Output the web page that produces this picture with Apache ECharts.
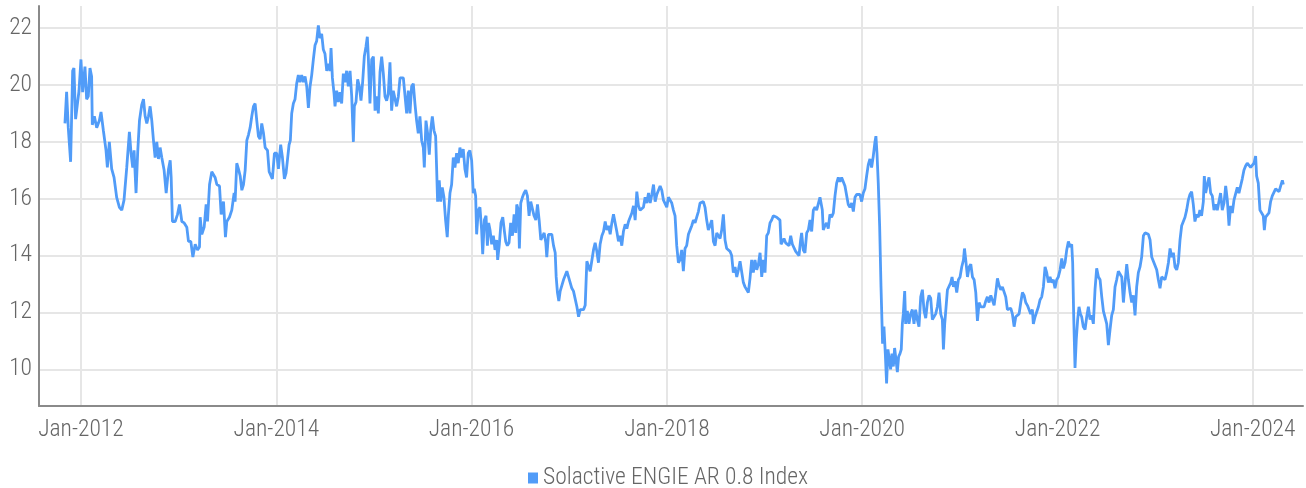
<!DOCTYPE html>
<html lang="en" style="height: 100%">
<head>
  <meta charset="UTF-8">
</head>
<body style="height: 100%; margin: 0">
  <div id="container" style="width: 1306px; height: 488px"></div>
  <script type="text/javascript" src="https://fastly.jsdelivr.net/npm/echarts@6/dist/echarts.min.js"></script>
  <script type="text/javascript">
var seriesName = 'Solactive ENGIE AR 0.8 Index';
var yLabels = [10, 12, 14, 16, 18, 20, 22];
var xLabelYears = [2012, 2014, 2016, 2018, 2020, 2022, 2024];

// dates as decimal years
var dates = [
  2011.836, 2011.853, 2011.870, 2011.894, 2011.915, 2011.928, 2011.945, 2011.963, 2011.980, 2012.000,
  2012.017, 2012.041, 2012.058, 2012.075, 2012.092, 2012.109, 2012.116, 2012.137, 2012.161, 2012.188,
  2012.205, 2012.229, 2012.256, 2012.270, 2012.290, 2012.314, 2012.338, 2012.365, 2012.393, 2012.417,
  2012.440, 2012.468, 2012.495, 2012.512, 2012.529, 2012.543, 2012.563, 2012.580, 2012.598, 2012.621,
  2012.639, 2012.656, 2012.673, 2012.690, 2012.707, 2012.724, 2012.741, 2012.758, 2012.775, 2012.792,
  2012.809, 2012.826, 2012.850, 2012.871, 2012.895, 2012.912, 2012.922, 2012.935, 2012.963, 2012.987,
  2013.007, 2013.031, 2013.055, 2013.082, 2013.099, 2013.123, 2013.144, 2013.168, 2013.192, 2013.212,
  2013.219, 2013.236, 2013.260, 2013.280, 2013.294, 2013.315, 2013.338, 2013.355, 2013.372, 2013.390,
  2013.417, 2013.434, 2013.458, 2013.478, 2013.492, 2013.519, 2013.543, 2013.567, 2013.577, 2013.594,
  2013.611, 2013.629, 2013.646, 2013.663, 2013.680, 2013.697, 2013.714, 2013.731, 2013.748, 2013.765,
  2013.782, 2013.799, 2013.816, 2013.833, 2013.850, 2013.868, 2013.885, 2013.909, 2013.926,
  2013.935, 2013.959, 2013.980, 2014.003, 2014.021, 2014.044, 2014.062, 2014.082, 2014.099, 2014.116,
  2014.130, 2014.143, 2014.157, 2014.174, 2014.191, 2014.208, 2014.225, 2014.242, 2014.259, 2014.277,
  2014.294, 2014.311, 2014.328, 2014.345, 2014.362, 2014.379, 2014.396, 2014.413, 2014.430, 2014.447,
  2014.464, 2014.481, 2014.498, 2014.516, 2014.533, 2014.550, 2014.560, 2014.574, 2014.591, 2014.601,
  2014.618, 2014.635, 2014.652, 2014.669, 2014.686, 2014.703, 2014.720, 2014.737, 2014.755, 2014.772,
  2014.789, 2014.799, 2014.816, 2014.833, 2014.850, 2014.867, 2014.884, 2014.901, 2014.918, 2014.932,
  2014.942, 2014.959, 2014.977, 2014.994, 2015.011, 2015.028, 2015.045, 2015.062, 2015.079, 2015.096,
  2015.113, 2015.130, 2015.147, 2015.164, 2015.181, 2015.198, 2015.215, 2015.232, 2015.250, 2015.267,
  2015.284, 2015.301, 2015.318, 2015.335, 2015.352, 2015.369, 2015.386, 2015.403, 2015.420, 2015.437,
  2015.454, 2015.471, 2015.489, 2015.506, 2015.516, 2015.533, 2015.550, 2015.567, 2015.581, 2015.598,
  2015.615, 2015.632, 2015.642, 2015.652, 2015.669, 2015.683, 2015.700, 2015.717, 2015.734, 2015.751,
  2015.762, 2015.779, 2015.796, 2015.813, 2015.830, 2015.847, 2015.864, 2015.881, 2015.898, 2015.915,
  2015.932, 2015.949, 2015.966, 2015.983, 2016.001, 2016.018,
  2016.028, 2016.042, 2016.052, 2016.069, 2016.086, 2016.103, 2016.114, 2016.131, 2016.148, 2016.162,
  2016.175, 2016.189, 2016.206, 2016.223, 2016.240, 2016.257, 2016.267, 2016.284, 2016.301, 2016.319,
  2016.336, 2016.349, 2016.366, 2016.383, 2016.400, 2016.418, 2016.435, 2016.452, 2016.462, 2016.479,
  2016.489, 2016.503, 2016.520, 2016.537, 2016.554, 2016.571, 2016.588, 2016.605, 2016.622, 2016.639,
  2016.657, 2016.674, 2016.691, 2016.708, 2016.725, 2016.742, 2016.759, 2016.769, 2016.786, 2016.803,
  2016.820, 2016.838, 2016.855, 2016.865, 2016.878, 2016.892, 2016.906, 2016.923, 2016.940, 2016.957,
  2016.974, 2016.991, 2017.008, 2017.025, 2017.042, 2017.059, 2017.077, 2017.094, 2017.111, 2017.128,
  2017.145, 2017.162, 2017.179, 2017.196, 2017.213, 2017.230, 2017.247, 2017.264, 2017.281, 2017.298,
  2017.315, 2017.333, 2017.350, 2017.367, 2017.384, 2017.401, 2017.418, 2017.435, 2017.452, 2017.469,
  2017.486, 2017.503, 2017.520, 2017.537, 2017.554, 2017.572, 2017.589, 2017.606, 2017.623, 2017.640,
  2017.657, 2017.674, 2017.691, 2017.708, 2017.725, 2017.742, 2017.759, 2017.776, 2017.793, 2017.811,
  2017.828, 2017.845, 2017.862, 2017.879, 2017.896, 2017.913, 2017.930, 2017.947, 2017.964, 2017.981,
  2017.998, 2018.015, 2018.032, 2018.049, 2018.066,
  2018.083, 2018.100, 2018.117, 2018.134, 2018.151, 2018.168, 2018.185, 2018.202, 2018.220, 2018.237,
  2018.254, 2018.271, 2018.288, 2018.305, 2018.322, 2018.339, 2018.356, 2018.373, 2018.390, 2018.407,
  2018.424, 2018.441, 2018.459, 2018.476, 2018.493, 2018.510, 2018.527, 2018.544, 2018.561, 2018.578,
  2018.595, 2018.612, 2018.629, 2018.646, 2018.663, 2018.680, 2018.698, 2018.715, 2018.732, 2018.749,
  2018.766, 2018.783, 2018.800, 2018.817, 2018.834, 2018.851, 2018.868, 2018.885, 2018.902, 2018.920,
  2018.937, 2018.954, 2018.971, 2018.988, 2019.005, 2019.022, 2019.039, 2019.056, 2019.073, 2019.090,
  2019.107, 2019.124, 2019.141, 2019.158, 2019.169, 2019.182, 2019.199, 2019.216, 2019.233, 2019.251,
  2019.268, 2019.285, 2019.302, 2019.319, 2019.336, 2019.353, 2019.370, 2019.380, 2019.397, 2019.414,
  2019.432, 2019.449, 2019.466, 2019.483, 2019.500, 2019.517, 2019.534, 2019.551, 2019.568, 2019.578,
  2019.592, 2019.602, 2019.619, 2019.636, 2019.653, 2019.670, 2019.687, 2019.705, 2019.722, 2019.739,
  2019.756, 2019.773, 2019.790, 2019.807, 2019.824, 2019.841, 2019.858, 2019.875, 2019.893, 2019.910,
  2019.927, 2019.944, 2019.961, 2019.978, 2019.995, 2020.012, 2020.029, 2020.046, 2020.063, 2020.080,
  2020.097, 2020.114, 2020.131, 2020.141, 2020.152, 2020.165, 2020.179, 2020.193,
  2020.209, 2020.223, 2020.237, 2020.250, 2020.264, 2020.278, 2020.291, 2020.305, 2020.319, 2020.332,
  2020.346, 2020.360, 2020.373, 2020.387, 2020.400, 2020.411, 2020.421, 2020.435, 2020.445, 2020.462,
  2020.479, 2020.496, 2020.513, 2020.530, 2020.547, 2020.564, 2020.581, 2020.599, 2020.616, 2020.633,
  2020.650, 2020.667, 2020.684, 2020.701, 2020.718, 2020.735, 2020.752, 2020.769, 2020.786, 2020.803,
  2020.820, 2020.831, 2020.844, 2020.858, 2020.872, 2020.889, 2020.906, 2020.919, 2020.933, 2020.950,
  2020.967, 2020.984, 2021.001, 2021.018, 2021.036, 2021.046, 2021.059, 2021.077, 2021.094, 2021.111,
  2021.128, 2021.145, 2021.162, 2021.179, 2021.196, 2021.213, 2021.230, 2021.247, 2021.264, 2021.281,
  2021.298, 2021.316, 2021.333, 2021.350, 2021.367, 2021.384, 2021.401, 2021.418, 2021.435, 2021.452,
  2021.469, 2021.486, 2021.503, 2021.520, 2021.537, 2021.555, 2021.572, 2021.589, 2021.606, 2021.623,
  2021.640, 2021.657, 2021.674, 2021.691, 2021.708, 2021.725, 2021.742, 2021.752, 2021.770, 2021.787,
  2021.804, 2021.821, 2021.838, 2021.855, 2021.872, 2021.889, 2021.906, 2021.923, 2021.940, 2021.957,
  2021.974, 2021.991, 2022.008, 2022.026, 2022.043, 2022.060, 2022.077, 2022.094, 2022.111, 2022.128,
  2022.145, 2022.155, 2022.165, 2022.179, 2022.192, 2022.206, 2022.220, 2022.234, 2022.247, 2022.264,
  2022.282, 2022.299, 2022.316, 2022.333, 2022.350, 2022.367, 2022.384, 2022.401, 2022.419, 2022.436,
  2022.453, 2022.470, 2022.487, 2022.504, 2022.521, 2022.538, 2022.555, 2022.572, 2022.589, 2022.606,
  2022.623, 2022.640, 2022.658, 2022.675, 2022.692, 2022.709, 2022.726, 2022.743, 2022.760, 2022.777,
  2022.794, 2022.811, 2022.828, 2022.845, 2022.862, 2022.880, 2022.897, 2022.914, 2022.931, 2022.948,
  2022.965, 2022.982, 2022.999, 2023.016, 2023.033, 2023.050, 2023.067, 2023.084, 2023.101, 2023.118,
  2023.136, 2023.153, 2023.170, 2023.187, 2023.204, 2023.221, 2023.238, 2023.255, 2023.272, 2023.289,
  2023.306, 2023.323, 2023.340, 2023.357, 2023.374, 2023.391, 2023.408, 2023.425, 2023.442, 2023.459,
  2023.476, 2023.494, 2023.504, 2023.518, 2023.535, 2023.552, 2023.569, 2023.586, 2023.603, 2023.620,
  2023.637, 2023.654, 2023.671, 2023.688, 2023.706, 2023.723, 2023.740, 2023.757, 2023.774, 2023.791,
  2023.808, 2023.825, 2023.842, 2023.859, 2023.876, 2023.893, 2023.910, 2023.927, 2023.944, 2023.961,
  2023.979, 2023.996, 2024.013, 2024.030, 2024.040, 2024.057, 2024.074, 2024.091, 2024.108, 2024.119,
  2024.132, 2024.149, 2024.166, 2024.183, 2024.200, 2024.217, 2024.234, 2024.251, 2024.269, 2024.286,
  2024.303, 2024.313
];

var values = [
  18.65, 19.76, 18.5, 17.3, 20.5, 20.6, 18.8, 18.75, 19.8, 20.9,
  19.75, 20.65, 19.5, 19.6, 20.6, 20.3, 18.6, 18.9, 18.5, 18.75,
  19.05, 18.4, 17.7, 17.1, 18.0, 17.05, 16.75, 16.05, 15.7, 15.6,
  15.95, 17.1, 18.35, 17.6, 17.1, 17.7, 16.2, 17.65, 18.75, 19.3,
  19.5, 18.9, 18.65, 18.9, 19.25, 18.75, 18.05, 17.45, 18.0, 17.4,
  17.8, 17.45, 17.0, 16.2, 17.05, 17.35, 16.75, 15.2, 15.2, 15.45,
  15.8, 15.2, 15.15, 15.0, 14.5, 14.5, 13.95, 14.4, 14.2, 14.3,
  15.35, 14.75, 15.0, 15.8, 15.2, 16.5, 16.95, 16.9, 16.75, 16.5,
  16.45, 15.45, 15.9, 14.65, 15.2, 15.35, 15.6, 16.2, 15.9, 17.25,
  17.05, 16.8, 16.3, 16.5, 17.0, 18.05, 18.25, 18.5, 18.9, 19.25,
  19.35, 18.75, 18.2, 18.1, 18.65, 18.3, 17.8, 17.7, 16.95,
  17.0, 16.7, 17.6, 17.6, 17.05, 17.9, 17.45, 16.7, 16.9, 17.45,
  17.9, 18.05, 19.0, 19.35, 19.5, 20.05, 20.35, 20.1, 20.35, 20.1,
  20.3, 19.95, 19.2, 19.95, 20.35, 20.9, 21.4, 21.55, 22.1, 21.65,
  21.8, 21.25, 21.1, 20.5, 20.75, 20.5, 21.3, 20.25, 19.7, 19.25,
  19.8, 19.4, 19.75, 19.35, 20.4, 20.1, 20.5, 19.95, 20.5, 19.6,
  18.0, 19.25, 19.4, 20.2, 19.95, 19.45, 20.1, 21.0, 21.35, 21.7,
  21.0, 19.35, 20.9, 21.0, 19.1, 19.6, 19.0, 20.45, 21.0, 20.4,
  19.6, 19.45, 19.7, 20.8, 19.1, 19.8, 19.75, 19.25, 19.6, 20.25,
  20.2, 20.25, 20.2, 19.0, 19.8, 19.0, 19.95, 20.05, 19.35, 18.75,
  18.3, 18.9, 18.05, 17.8, 17.1, 18.75, 18.3, 17.55, 18.4, 18.9,
  18.4, 18.2, 17.1, 15.9, 16.65, 15.9, 16.4, 16.05, 15.25, 14.65,
  15.4, 16.2, 16.5, 17.45, 17.1, 17.6, 17.25, 17.8, 17.45, 17.75,
  17.05, 16.75, 17.6, 17.7, 17.35, 16.2,
  16.35, 16.1, 14.75, 15.6, 15.7, 14.9, 14.05, 15.25, 15.4, 14.35,
  15.15, 14.9, 14.4, 14.7, 14.2, 14.55, 13.85, 14.4, 15.15, 15.35,
  14.85, 14.5, 14.35, 14.45, 15.15, 14.7, 15.45, 14.8, 15.8, 15.6,
  14.25, 15.85, 16.05, 16.2, 16.3, 16.1, 15.4, 15.9, 15.9, 15.4,
  15.25, 15.8, 15.25, 14.55, 14.5, 14.8, 14.45, 13.95, 14.75, 14.75,
  14.75, 14.35, 14.1, 13.25, 12.7, 12.4, 12.75, 12.7, 13.15, 13.15,
  13.45, 13.25, 13.3, 12.85, 12.75, 12.7, 12.2, 11.85, 12.1, 12.05,
  12.1, 12.25, 13.8, 13.75, 13.45, 13.5, 14.2, 14.45, 14.15, 13.75,
  14.4, 14.7, 14.85, 15.2, 14.9, 15.05, 14.75, 15.15, 15.45, 15.4,
  14.85, 14.5, 14.7, 14.35, 14.85, 15.1, 14.95, 15.2, 15.25, 15.5,
  15.75, 15.25, 16.25, 15.75, 15.6, 15.55, 15.7, 16.05, 15.85, 16.2,
  15.85, 16.15, 16.5, 15.9, 16.15, 16.3, 16.45, 16.3, 15.95, 15.9,
  15.7, 16.05, 16.1, 15.85, 15.6,
  15.4, 14.35, 13.75, 13.85, 14.2, 13.45, 14.25, 14.35, 14.75, 14.7,
  15.05, 15.25, 15.15, 15.35, 15.55, 15.85, 15.9, 15.9, 15.7, 15.25,
  14.9, 15.05, 15.25, 14.5, 14.35, 14.8, 14.7, 14.6, 14.9, 15.45,
  14.55, 14.25, 14.25, 14.15, 14.0, 13.4, 13.6, 13.25, 13.5, 13.8,
  13.75, 13.05, 12.9, 12.85, 12.7, 13.2, 13.85, 13.4, 13.85, 13.5,
  13.7, 14.1, 13.25, 13.85, 13.4, 14.7, 14.8, 15.15, 15.25, 15.4,
  15.35, 15.35, 15.35, 15.25, 14.4, 14.35, 14.6, 14.45, 14.5, 14.35,
  14.7, 14.4, 14.35, 14.15, 14.1, 14.0, 14.55, 14.8, 14.2, 14.1,
  14.8, 14.9, 15.25, 14.85, 15.6, 15.7, 15.6, 15.55, 16.05, 16.1,
  15.6, 14.9, 15.05, 15.15, 14.95, 15.45, 15.35, 15.5, 16.1, 16.55,
  16.75, 16.6, 16.75, 16.7, 16.45, 16.5, 15.8, 15.7, 15.85, 15.55,
  16.05, 16.15, 16.2, 16.15, 15.9, 16.2, 16.35, 16.8, 17.2, 17.4,
  17.1, 17.5, 18.0, 18.2, 17.6, 16.55, 15.05, 12.9,
  10.9, 11.5, 10.55, 9.5, 10.7, 10.35, 10.0, 10.55, 10.1, 10.75,
  10.35, 9.9, 10.45, 10.55, 10.7, 11.6, 11.95, 12.75, 11.6, 12.05,
  11.6, 11.95, 12.1, 11.6, 12.1, 11.75, 11.5, 12.55, 12.8, 12.05,
  11.8, 12.35, 12.6, 12.5, 11.75, 11.7, 11.95, 12.2, 12.7, 11.95,
  11.75, 10.7, 11.6, 12.2, 12.8, 12.85, 13.05, 13.25, 12.9, 13.1,
  12.7, 13.15, 13.25, 13.6, 13.85, 14.25, 13.85, 13.25, 13.6, 13.7,
  13.25, 13.15, 12.7, 11.7, 12.35, 12.2, 12.25, 12.2, 12.4, 12.55,
  12.35, 12.6, 12.55, 12.25, 12.7, 13.2, 12.95, 12.8, 12.9, 12.85,
  12.55, 12.1, 12.05, 12.15, 11.95, 11.5, 11.85, 11.85, 11.95, 12.35,
  12.7, 12.6, 12.35, 12.25, 12.2, 11.95, 12.1, 11.6, 11.85, 11.8,
  12.2, 12.45, 12.55, 12.9, 13.6, 13.4, 13.05, 13.25, 13.05, 13.15,
  12.85, 13.15, 13.25, 13.5, 13.9, 13.55, 13.75, 14.2, 14.5, 14.3,
  14.4, 13.75, 11.95, 10.05, 11.05, 11.75, 12.2, 11.95, 11.85, 11.5,
  11.4, 11.85, 12.2, 11.75, 11.9, 11.6, 12.8, 13.55, 13.25, 13.15,
  12.55, 12.05, 12.1, 11.6, 10.85, 11.4, 11.9, 12.1, 12.9, 13.15,
  13.45, 13.45, 13.25, 12.35, 13.05, 13.7, 13.15, 12.7, 12.35, 12.6,
  11.9, 12.9, 13.4, 13.6, 13.95, 14.7, 14.8, 14.8, 14.75, 14.55,
  13.95, 13.8, 13.75, 13.5, 13.15, 12.85, 13.25, 13.25, 13.15, 13.4,
  13.75, 14.25, 13.95, 14.1, 13.6, 13.5, 13.75, 14.55, 15.05, 15.2,
  15.35, 15.6, 15.95, 16.15, 16.25, 15.8, 15.2, 15.45, 15.35, 15.6,
  15.4, 15.9, 16.8, 16.2, 16.5, 16.75, 16.2, 16.1, 15.6, 15.8,
  15.6, 15.9, 16.2, 15.6, 15.85, 16.45, 15.95, 15.05, 15.75, 15.5,
  15.95, 15.95, 16.4, 16.2, 16.45, 16.7, 17.0, 17.15, 17.25, 17.25,
  17.1, 17.05, 17.25, 17.5, 16.8, 16.55, 15.6, 15.55, 15.4, 14.9,
  15.35, 15.4, 15.5, 15.9, 16.1, 16.15, 16.35, 16.35, 16.25, 16.45,
  16.65, 16.5
];

var axisStart = 2011.57;
var axisEnd = 2024.514;

function toTime(y) {
  var yr = Math.floor(y);
  var s = Date.UTC(yr, 0, 1), e = Date.UTC(yr + 1, 0, 1);
  return s + (y - yr) * (e - s);
}

var n = Math.min(dates.length, values.length);
var seriesData = [];
for (var i = 0; i < n; i++) {
  seriesData.push([toTime(dates[i]), values[i]]);
}
var xTicks = xLabelYears.map(function (y) { return Date.UTC(y, 0, 1); });

var textFont = {
  color: '#666',
  fontFamily: '"Roboto Condensed", "DejaVu Sans Condensed", sans-serif',
  fontWeight: 300,
  fontSize: 23.5
};

var dom = document.getElementById('container');
var myChart = echarts.init(dom, null, { renderer: 'canvas' });
var option = {
  animation: false,
  backgroundColor: '#fff',
  grid: { left: 39, right: 3, top: 6, bottom: 82 },
  legend: {
    data: [seriesName],
    left: 528,
    top: 466,
    padding: 0,
    icon: 'rect',
    itemWidth: 10,
    itemHeight: 11,
    itemGap: 5,
    textStyle: textFont
  },
  xAxis: {
    type: 'value',
    min: toTime(axisStart),
    max: toTime(axisEnd),
    axisLine: { lineStyle: { color: '#8a8a8a', width: 2 } },
    axisTick: { show: false, customValues: xTicks },
    axisLabel: Object.assign({
      customValues: xTicks,
      margin: 12,
      formatter: function (v) { return 'Jan-' + new Date(v).getUTCFullYear(); }
    }, textFont),
    splitLine: { show: true, lineStyle: { color: '#e6e6e6', width: 2 } }
  },
  yAxis: {
    type: 'value',
    min: 8.71,
    max: 22.78,
    axisLine: { show: true, lineStyle: { color: '#8a8a8a', width: 2 } },
    axisTick: { show: false, customValues: yLabels },
    axisLabel: Object.assign({ customValues: yLabels, margin: 7 }, textFont),
    splitLine: { show: true, lineStyle: { color: '#e6e6e6', width: 2 } }
  },
  series: [{
    name: seriesName,
    type: 'line',
    data: seriesData,
    showSymbol: false,
    color: '#519cf8',
    lineStyle: { width: 2.8, color: '#519cf8' }
  }]
};
myChart.setOption(option);
window.addEventListener('resize', myChart.resize);
  </script>
</body>
</html>
